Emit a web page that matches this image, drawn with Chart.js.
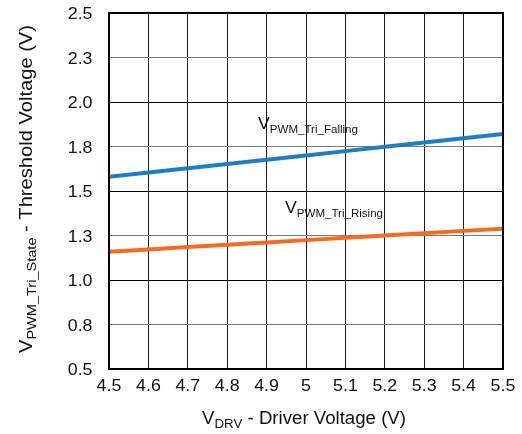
<!DOCTYPE html>
<html><head><meta charset="utf-8">
<script src="https://cdn.jsdelivr.net/npm/chart.js@4/dist/chart.umd.min.js"></script>
<style>html,body{margin:0;padding:0;background:#fff}#wrap{width:522px;height:434px}</style>
</head><body><div id="wrap"><canvas id="c" width="522" height="434"></canvas></div>
<script>
const xValues = [4.5, 4.6, 4.7, 4.8, 4.9, 5.0, 5.1, 5.2, 5.3, 5.4, 5.5];
const fallingValues = [1.58, 1.604, 1.628, 1.652, 1.676, 1.70, 1.724, 1.748, 1.772, 1.796, 1.82];
const risingValues = [1.159, 1.172, 1.185, 1.198, 1.211, 1.224, 1.237, 1.250, 1.263, 1.276, 1.288];
const xTickLabels = ['4.5','4.6','4.7','4.8','4.9','5','5.1','5.2','5.3','5.4','5.5'];
const yTickValues = [0.5, 0.75, 1.0, 1.25, 1.5, 1.75, 2.0, 2.25, 2.5];
const yTickLabels = ['0.5','0.8','1.0','1.3','1.5','1.8','2.0','2.3','2.5'];
const FONT = '"Liberation Sans", Arial, sans-serif';
const INK = '#111';

function richWidth(ctx, parts) {
  let w = 0;
  for (const p of parts) { ctx.font = p.size + 'px ' + FONT; w += ctx.measureText(p.t).width; }
  return w;
}
function drawRich(ctx, x, y, parts, sx, align) {
  const w = richWidth(ctx, parts) * sx;
  let start = align === 'center' ? x - w / 2 : (align === 'right' ? x - w : x);
  ctx.save();
  ctx.translate(start, y);
  ctx.scale(sx, 1);
  ctx.fillStyle = INK;
  ctx.textAlign = 'left';
  ctx.textBaseline = 'alphabetic';
  let cx = 0;
  for (const p of parts) {
    ctx.font = p.size + 'px ' + FONT;
    ctx.fillText(p.t, cx, p.dy || 0);
    cx += ctx.measureText(p.t).width;
  }
  ctx.restore();
}
function fitRich(ctx, x, y, parts, targetW, align) {
  const sx = targetW / richWidth(ctx, parts);
  drawRich(ctx, x, y, parts, sx, align);
}

const textPlugin = {
  id: 'texts',
  afterDraw(chart) {
    const ctx = chart.ctx;
    const a = chart.chartArea;
    const xs = chart.scales.x, ys = chart.scales.y;
    ctx.save();
    ctx.strokeStyle = '#000';
    ctx.lineWidth = 2;
    ctx.strokeRect(a.left, a.top, a.right - a.left, a.bottom - a.top);
    ctx.restore();
    const TS = 1.08, TF = 16.5;
    yTickValues.forEach((v, i) => {
      const py = ys.getPixelForValue(v);
      drawRich(ctx, 92.5, py + 6, [{t: yTickLabels[i], size: TF}], TS, 'right');
    });
    xValues.forEach((v, i) => {
      const px = xs.getPixelForValue(v);
      drawRich(ctx, px, 390.5, [{t: xTickLabels[i], size: TF}], TS, 'center');
    });
    fitRich(ctx, (a.left + a.right) / 2 - 2, 424,
      [{t: 'V', size: 17.5}, {t: 'DRV', size: 12.5, dy: 4}, {t: ' - Driver Voltage (V)', size: 17.5}], 204, 'center');
    ctx.save();
    ctx.translate(32, 189);
    ctx.rotate(-Math.PI / 2);
    fitRich(ctx, 0, 0,
      [{t: 'V', size: 18}, {t: 'PWM_Tri_State', size: 13, dy: 4}, {t: ' - Threshold Voltage (V)', size: 18}], 328, 'center');
    ctx.restore();
    drawRich(ctx, 258, 129, [{t: 'V', size: 16.5}, {t: 'PWM_Tri_Falling', size: 10.8, dy: 4}], 1.07, 'left');
    drawRich(ctx, 285, 213, [{t: 'V', size: 16.5}, {t: 'PWM_Tri_Rising', size: 10.8, dy: 4}], 1.07, 'left');
  }
};

new Chart(document.getElementById('c'), {
  type: 'line',
  data: {
    datasets: [
      { label: 'VPWM_Tri_Falling', data: xValues.map((x, i) => ({x, y: fallingValues[i]})), borderColor: '#1E7EC4', borderWidth: 4, pointRadius: 0, tension: 0 },
      { label: 'VPWM_Tri_Rising', data: xValues.map((x, i) => ({x, y: risingValues[i]})), borderColor: '#F36C22', borderWidth: 4, pointRadius: 0, tension: 0 }
    ]
  },
  options: {
    responsive: false,
    animation: false,
    events: [],
    layout: { padding: { top: 13, right: 19, left: 0, bottom: 0 } },
    plugins: { legend: { display: false }, tooltip: { enabled: false } },
    scales: {
      x: {
        type: 'linear', min: 4.5, max: 5.5,
        afterBuildTicks(s) { s.ticks = xValues.map(v => ({value: v})); },
        afterFit(s) { s.height = 65; },
        ticks: { display: false },
        grid: { color: '#1a1a1a', lineWidth: 1, drawTicks: false },
        border: { display: false }
      },
      y: {
        min: 0.5, max: 2.5,
        afterBuildTicks(s) { s.ticks = yTickValues.map(v => ({value: v})); },
        afterFit(s) { s.width = 109; },
        ticks: { display: false },
        grid: { color: (c) => (c.index % 2 === 0 ? '#000' : '#7a7a7a'), lineWidth: 1, drawTicks: false },
        border: { display: false }
      }
    }
  },
  plugins: [textPlugin]
});
</script>
</body></html>
